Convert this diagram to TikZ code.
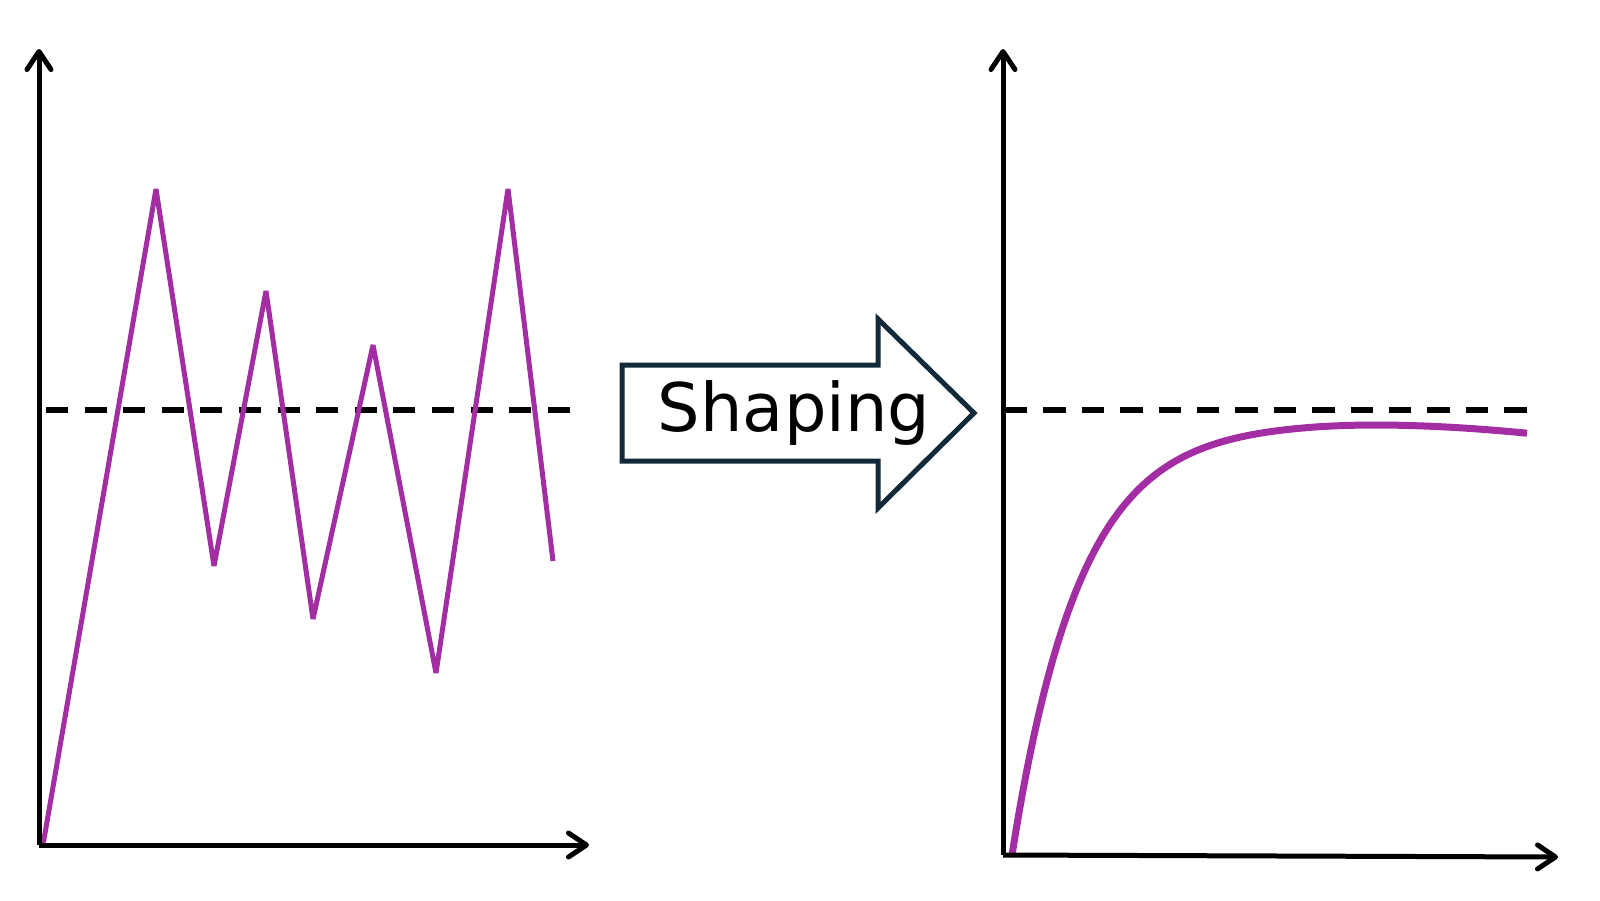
\documentclass[tikz,border=0pt]{standalone}
\usepackage{fontspec}
\setmainfont{DejaVu Sans}
\usetikzlibrary{arrows.meta}
\definecolor{curvepurple}{RGB}{163,45,163}
\definecolor{arrowdark}{RGB}{16,42,58}
\tikzset{
  axisline/.style={line width=5pt, black, -{Straight Barb[length=18pt,width=24pt,line cap=round,line join=round]}},
  refline/.style={line width=5.5pt, black},
  zigline/.style={line width=5pt, curvepurple, line join=bevel},
  smoothline/.style={line width=7pt, curvepurple},
  shapearrow/.style={line width=5pt, draw=arrowdark, fill=white, line join=miter},
}
\begin{document}
\begin{tikzpicture}[x=1pt,y=-1pt]
\useasboundingbox (0,0) rectangle (1600,900);
% left plot
\coordinate (lo) at (39,845);
\coordinate (ly) at (39,49);
\coordinate (lx) at (589,845);
\coordinate (lda) at (46,410);
\coordinate (ldb) at (572,410);
\draw[refline, dash pattern=on 22pt off 16.6pt] (lda) -- (ldb);
\draw[zigline] (43,845) -- (156,189) -- (214,566) -- (266,291) -- (313,619) -- (373,345) -- (436,673) -- (508,189) -- (553,561);
\draw[axisline] (lo) -- (ly);
\draw[axisline] (lo) -- (lx);
% shaping arrow
\coordinate (a1) at (622,365);
\coordinate (a2) at (878,365);
\coordinate (a3) at (878,319);
\coordinate (a4) at (974,413);
\coordinate (a5) at (878,508);
\coordinate (a6) at (878,461);
\coordinate (a7) at (622,461);
\draw[shapearrow] (a1) -- (a2) -- (a3) -- (a4) -- (a5) -- (a6) -- (a7) -- cycle;
\node[font=\fontsize{67}{80}\selectfont, inner sep=0pt] (lbl) at (794,413) {Shaping};
% right plot
\coordinate (ro) at (1003,855);
\coordinate (ry) at (1003,49);
\coordinate (rx) at (1558,857);
\coordinate (rda) at (1005,410);
\coordinate (rdb) at (1527,410);
\draw[refline, dash pattern=on 22.4pt off 16pt] (rda) -- (rdb);
\draw[smoothline] plot[domain=1012:1527, samples=140, smooth]
  (\x, {855 - 433*(1-exp(-(\x-1012)/68)) + (0.01543*max(0,\x-1312))^2});
\draw[axisline] (ro) -- (ry);
\draw[axisline] (ro) -- (rx);
\end{tikzpicture}
\end{document}
